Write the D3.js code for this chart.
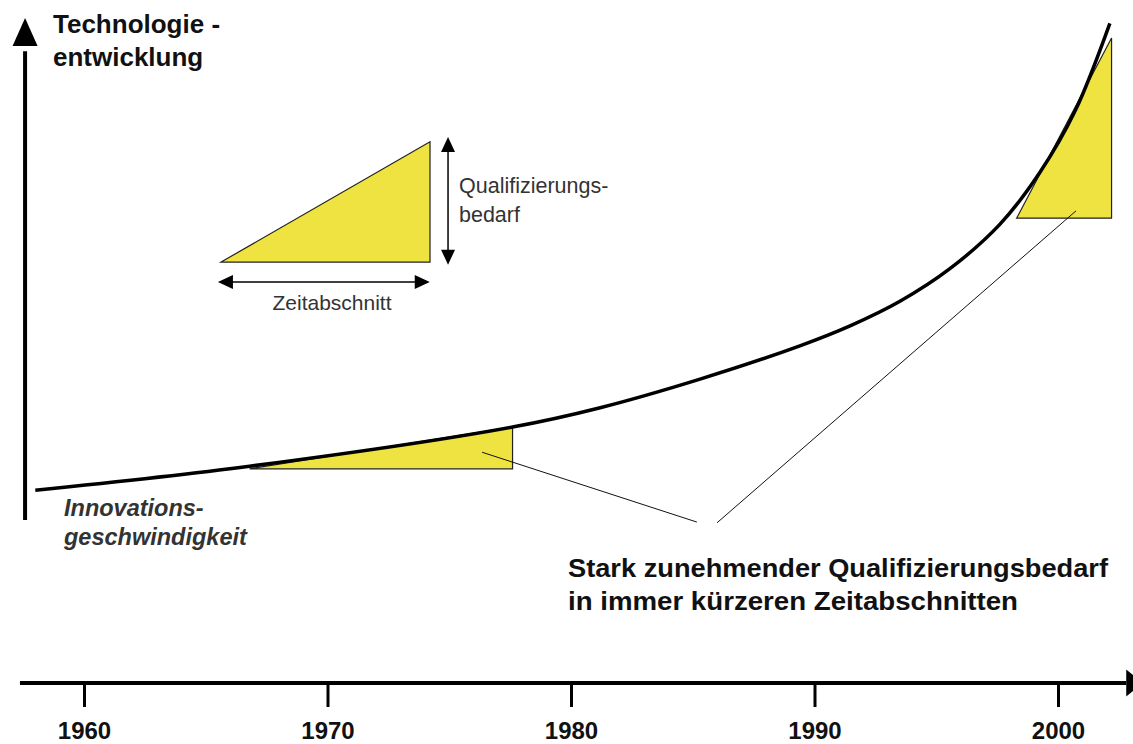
<!DOCTYPE html>
<html>
<head>
<meta charset="utf-8">
<script src="https://cdn.jsdelivr.net/npm/d3@7"></script>
<style>
  body { margin: 0; background: #fff; }
  text { font-family: "Liberation Sans", Arial, sans-serif; }
</style>
</head>
<body>
<div id="chart"></div>
<script>
// Curve of technology development (year -> index 0..100)
var years = [1958.0, 1966.8, 1977.6, 1981.2, 1985.3, 1989.4, 1991.46, 1993.51, 1995.56, 1997.62, 1999.26, 2000.7, 2002.13];
var level = [29.0, 32.6, 38.5, 41.4, 45.7, 50.7, 53.7, 57.4, 62.3, 69.0, 76.8, 86.0, 99.2];
var tickYears = [1960, 1970, 1980, 1990, 2000];

// Triangles: [startYear, endYear, baseLevel, topLevel]
var stepEarly = [1966.8, 1977.6, 32.2, 38.5];
var stepLate = [1998.3, 2002.2, 69.9, 97.0];
var legendStep = [1965.63, 1974.21, 63.3, 81.4];

// Pointer lines from the triangles to the caption: [year1, level1, year2, level2]
var pointers = [[1976.35, 34.7, 1985.17, 24.2], [2000.74, 71.0, 1986.0, 24.1]];

var width = 1133;
var height = 744;
var yellow = "#eee340";

var svg = d3.select("#chart")
  .append("svg")
  .attr("width", width)
  .attr("height", height);

var x = d3.scaleLinear().domain([1960, 2000]).range([84, 1058]);
var y = d3.scaleLinear().domain([0, 100]).range([683, 18]);

// Filled arrowhead with its tip at (tx, ty), pointing along angle a
function arrowHead(tx, ty, a, len, half) {
  var bx = tx - len * Math.cos(a), by = ty - len * Math.sin(a);
  var nx = -Math.sin(a) * half, ny = Math.cos(a) * half;
  return "M" + tx + "," + ty + "L" + (bx + nx) + "," + (by + ny) + "L" + (bx - nx) + "," + (by - ny) + "Z";
}

// x axis
svg.append("g")
  .attr("transform", "translate(0," + y(0) + ")")
  .call(d3.axisBottom(x).tickValues(tickYears).tickFormat(d3.format("d")).tickSize(24).tickPadding(15))
  .call(function (g) { g.select(".domain").remove(); })
  .call(function (g) {
    g.selectAll(".tick line").attr("stroke", "#000").attr("stroke-width", 3);
    g.selectAll(".tick text")
      .attr("fill", "#111")
      .style("font-size", "24px")
      .style("font-weight", "bold")
      .style("font-family", "'Liberation Sans', Arial, sans-serif");
  });

svg.append("line")
  .attr("x1", x(1957.37)).attr("x2", x(2002.8))
  .attr("y1", y(0)).attr("y2", y(0))
  .attr("stroke", "#000").attr("stroke-width", 4);
svg.append("path")
  .attr("d", arrowHead(x(2003.5), y(0), 0, 17, 13.5))
  .attr("fill", "#000");

// y axis
svg.append("line")
  .attr("x1", x(1957.58)).attr("x2", x(1957.58))
  .attr("y1", y(24.5)).attr("y2", y(95))
  .attr("stroke", "#000").attr("stroke-width", 4);
svg.append("path")
  .attr("d", arrowHead(x(1957.58), y(100), -Math.PI / 2, 28, 12.5))
  .attr("fill", "#000");

svg.append("text")
  .attr("x", 53).attr("y", 33)
  .style("font-size", "26px").style("font-weight", "bold").attr("fill", "#111")
  .text("Technologie -");
svg.append("text")
  .attr("x", 53).attr("y", 66)
  .style("font-size", "26px").style("font-weight", "bold").attr("fill", "#111")
  .text("entwicklung");

// triangles
function triangle(t) {
  return [[x(t[0]), y(t[2])], [x(t[1]), y(t[3])], [x(t[1]), y(t[2])]];
}
[stepEarly, stepLate, legendStep].forEach(function (t) {
  svg.append("path")
    .attr("d", d3.line()(triangle(t)) + "Z")
    .attr("fill", yellow)
    .attr("stroke", "#222")
    .attr("stroke-width", 1.2);
});

// curve
var points = years.map(function (d, i) { return [x(d), y(level[i])]; });
svg.append("path")
  .attr("d", d3.line().curve(d3.curveCatmullRom.alpha(0.5))(points))
  .attr("fill", "none")
  .attr("stroke", "#000")
  .attr("stroke-width", 3.5);

// pointer lines
pointers.forEach(function (p) {
  svg.append("line")
    .attr("x1", x(p[0])).attr("y1", y(p[1]))
    .attr("x2", x(p[2])).attr("y2", y(p[3]))
    .attr("stroke", "#111").attr("stroke-width", 1);
});

// legend double arrows
var vx = x(1974.95), vTop = y(82.1), vBot = y(62.9);
svg.append("line").attr("x1", vx).attr("x2", vx).attr("y1", vTop + 12).attr("y2", vBot - 12)
  .attr("stroke", "#000").attr("stroke-width", 1.5);
svg.append("path").attr("d", arrowHead(vx, vTop, -Math.PI / 2, 15, 7)).attr("fill", "#000");
svg.append("path").attr("d", arrowHead(vx, vBot, Math.PI / 2, 15, 7)).attr("fill", "#000");

var hy = y(60.3), hL = x(1965.5), hR = x(1974.2);
svg.append("line").attr("x1", hL + 12).attr("x2", hR - 12).attr("y1", hy).attr("y2", hy)
  .attr("stroke", "#000").attr("stroke-width", 1.5);
svg.append("path").attr("d", arrowHead(hL, hy, Math.PI, 15, 7)).attr("fill", "#000");
svg.append("path").attr("d", arrowHead(hR, hy, 0, 15, 7)).attr("fill", "#000");

svg.append("text")
  .attr("x", 459).attr("y", 193)
  .style("font-size", "21.5px").attr("fill", "#333")
  .text("Qualifizierungs-");
svg.append("text")
  .attr("x", 459).attr("y", 222)
  .style("font-size", "21.5px").attr("fill", "#333")
  .text("bedarf");
svg.append("text")
  .attr("x", 332).attr("y", 310).attr("text-anchor", "middle")
  .style("font-size", "21px").attr("fill", "#333")
  .text("Zeitabschnitt");

svg.append("text")
  .attr("x", 64).attr("y", 516)
  .style("font-size", "23.5px").style("font-weight", "bold").style("font-style", "italic").attr("fill", "#333")
  .text("Innovations-");
svg.append("text")
  .attr("x", 64).attr("y", 545)
  .style("font-size", "23.5px").style("font-weight", "bold").style("font-style", "italic").attr("fill", "#333")
  .text("geschwindigkeit");

svg.append("text")
  .attr("x", 568).attr("y", 577)
  .attr("textLength", 540).attr("lengthAdjust", "spacingAndGlyphs")
  .style("font-size", "26px").style("font-weight", "bold").attr("fill", "#111")
  .text("Stark zunehmender Qualifizierungsbedarf");
svg.append("text")
  .attr("x", 568).attr("y", 610)
  .attr("textLength", 450).attr("lengthAdjust", "spacingAndGlyphs")
  .style("font-size", "26px").style("font-weight", "bold").attr("fill", "#111")
  .text("in immer kürzeren Zeitabschnitten");
</script>
</body>
</html>
